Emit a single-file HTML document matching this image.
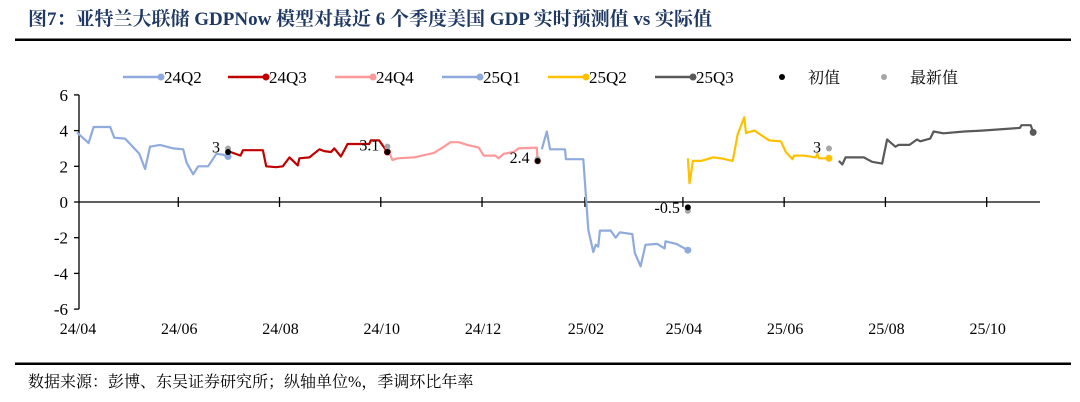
<!DOCTYPE html>
<html><head><meta charset="utf-8"><style>
body{margin:0;background:#fff;width:1080px;height:402px;overflow:hidden}
svg{display:block;font-family:"Liberation Serif","Noto Serif CJK SC",serif}
</style></head><body>
<svg id="chart" width="1080" height="402" viewBox="0 0 1080 402">
<text x="28" y="25" font-size="19" font-weight="bold" fill="#1f3864" font-family="Liberation Serif, Noto Serif CJK SC, serif">图7：亚特兰大联储 GDPNow 模型对最近 6 个季度美国 GDP 实时预测值 vs 实际值</text>
<rect x="15" y="38.5" width="1056" height="2.5" fill="#000"/>
<rect x="15" y="362.5" width="1056" height="2.5" fill="#000"/>
<text x="28" y="387" font-size="16" fill="#000">数据来源：彭博、东吴证券研究所；纵轴单位%，季调环比年率</text>
<g id="axes"></g><g id="series"></g><g id="legend"></g>
</svg>
<script>
const yTicks=[6,4,2,0,-2,-4,-6];
const xTickDays=[0,61,122,183,244,306,365,426,487,548];
const xTickLabels=["24/04","24/06","24/08","24/10","24/12","25/02","25/04","25/06","25/08","25/10"];
const seriesNames=["24Q2","24Q3","24Q4","25Q1","25Q2","25Q3"];
const seriesColors=["#8faadc","#c00000","#ff9999","#8faadc","#ffc000","#595959"];
const q224Days=[0,7,10,20,22.5,29,37.5,41,44,50,58,64,66,70,73,79,84,88,91];
const q224Vals=[3.9,3.3,4.2,4.2,3.6,3.55,2.7,1.85,3.1,3.2,3.0,2.95,2.2,1.55,2.0,2.0,2.7,2.65,2.55];
const q324Days=[91,98.5,100,112,114,120,124,128,133,134,140,146,149,153,155,159,163,176,177,182,187];
const q324Vals=[2.85,2.6,2.9,2.9,2.0,1.95,2.0,2.5,2.05,2.45,2.5,2.95,2.85,2.8,3.0,2.55,3.25,3.25,3.45,3.45,2.8];
const q424Days=[187,190,193,203,215,221,225,230,235,242,245,252,254,257,263,266,277,277.5];
const q424Vals=[3.0,2.35,2.45,2.5,2.75,3.1,3.35,3.35,3.2,3.05,2.6,2.6,2.45,2.7,2.8,3.0,3.05,2.3];
const q125Days=[280,283,285,294,294.5,305,308,311,312.5,314,315,321.5,324.5,327,334.5,336,339.5,342.5,349.5,354,354.5,361,368];
const q125Vals=[2.95,3.95,2.95,2.95,2.4,2.4,-1.55,-2.8,-2.4,-2.5,-1.6,-1.6,-2.0,-1.7,-1.8,-2.85,-3.6,-2.4,-2.35,-2.6,-2.2,-2.35,-2.7];
const q225Days=[368,369,371,376,383,388,395,398,402,403,404,408,417,424,427,431,432,438,445,446,447,453];
const q225Vals=[2.45,1.05,2.3,2.3,2.5,2.45,2.3,3.8,4.75,3.85,3.9,4.0,3.45,3.4,2.8,2.4,2.6,2.6,2.5,2.7,2.45,2.45];
const q325Days=[459,461,463,474,479,485,488,493,495,501.5,506,508,514,516,522,534.5,545,568,569,574.5,576];
const q325Vals=[2.3,2.1,2.5,2.5,2.25,2.15,3.5,3.1,3.2,3.2,3.5,3.4,3.55,3.95,3.85,3.95,4.0,4.15,4.3,4.3,3.9];
const releaseDays=[91,187,277.5,368,453];
const initialVals=[2.8,2.8,2.3,-0.3,null];
const latestVals=[3.0,3.1,2.4,-0.5,3.0];
const latestLabels=["3","3.1","2.4","-0.5","3"];

const NS="http://www.w3.org/2000/svg";
const X=d=>77+d*1.66;
const Y=v=>202-v*17.85;
function mk(tag,parent,attrs){const e=document.createElementNS(NS,tag);for(const k in attrs)e.setAttribute(k,attrs[k]);parent.appendChild(e);return e;}
const axes=document.getElementById('axes'),ser=document.getElementById('series'),leg=document.getElementById('legend');

let e=mk('line',axes,{x1:79,y1:Y(6),x2:79,y2:Y(-6),stroke:'#000','stroke-width':1.3});


yTicks.forEach(v=>{
  let t=mk('line',axes,{x1:74,x2:79,y1:Y(v),y2:Y(v),stroke:'#000','stroke-width':1.3});
  
  
  let l=mk('text',axes,{x:68,y:Y(v)+6,'text-anchor':'end','font-size':17});
  l.textContent=v;
  
  
});
e=mk('line',axes,{x1:79,y1:Y(0),x2:1040,y2:Y(0),stroke:'#000','stroke-width':1.3});


xTickDays.forEach((d,i)=>{
  if(i>0){let t=mk('line',axes,{x1:X(d),x2:X(d),y1:Y(0)-5,y2:Y(0)+5,stroke:'#000','stroke-width':1.3});
  
  }
  let l=mk('text',axes,{x:X(d)+1,y:334,'text-anchor':'middle','font-size':16});
  l.textContent=xTickLabels[i];
  
  
});

const allDays=[q224Days,q324Days,q424Days,q125Days,q225Days,q325Days];
const allVals=[q224Vals,q324Vals,q424Vals,q125Vals,q225Vals,q325Vals];
allDays.forEach((days,i)=>{
  const pts=days.map((d,j)=>X(d).toFixed(1)+','+Y(allVals[i][j]).toFixed(1)).join(' ');
  let p=mk('polyline',ser,{points:pts,fill:'none',stroke:seriesColors[i],'stroke-width':2.2,'stroke-linejoin':'round'});
  
  
  let c=mk('circle',ser,{cx:X(days[days.length-1]),cy:Y(allVals[i][days.length-1]),r:3.5,fill:seriesColors[i]});
  
  
});
releaseDays.forEach((d,i)=>{
  let g=mk('circle',ser,{cx:X(d),cy:Y(latestVals[i]),r:3,fill:'#a6a6a6'});
  
  
  if(initialVals[i]!==null){let b=mk('circle',ser,{cx:X(d),cy:Y(initialVals[i]),r:3,fill:'#000'});
  
  }
  const below=latestVals[i]<0;
  let t=mk('text',ser,{x:X(d)-8,y:below?Y(latestVals[i])+2:Y(latestVals[i])+4,'text-anchor':'end','font-size':16});
  t.textContent=latestLabels[i];
  
  
});

const legX=[123,228,335,442,548,655];
seriesNames.forEach((n,i)=>{
  let l=mk('line',leg,{x1:legX[i],x2:legX[i]+38,y1:77,y2:77,stroke:seriesColors[i],'stroke-width':2.5});
  
  
  let c=mk('circle',leg,{cx:legX[i]+38,cy:77,r:3.5,fill:seriesColors[i]});
  
  
  let t=mk('text',leg,{x:legX[i]+41,y:83,'font-size':17});
  t.textContent=n;
  
  
});
[[782,'#000','初值',808],[884,'#a6a6a6','最新值',910]].forEach(a=>{
  let c=mk('circle',leg,{cx:a[0],cy:77,r:3,fill:a[1]});
  
  
  let t=mk('text',leg,{x:a[3],y:83,'font-size':16});
  t.textContent=a[2];
  
  
});
</script>
</body></html>
